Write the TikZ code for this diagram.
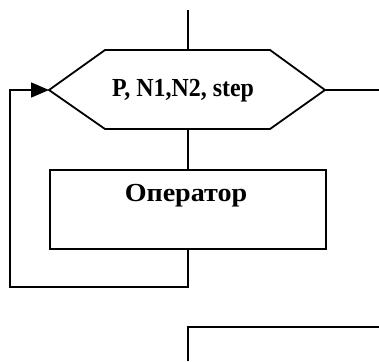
\documentclass[tikz,border=0pt]{standalone}
\usepackage{fontspec}
\setmainfont{Liberation Serif}
\usetikzlibrary{arrows.meta}
\begin{document}
\begin{tikzpicture}[x=1pt,y=-1pt,line width=1.8pt,
  lbl/.style={font=\fontsize{26}{30}\selectfont\bfseries, inner sep=0pt},
  opbox/.style={draw, minimum width=276pt, minimum height=79pt, anchor=north west, inner sep=0pt},
  flow/.style={draw},
  loopin/.style={-{Triangle[length=18pt,width=15pt]}}]
\useasboundingbox (0,0) rectangle (379,361);
% hexagon
\coordinate (hl) at (49,90);
\coordinate (htl) at (105,50);
\coordinate (htr) at (270,50);
\coordinate (hr) at (325,90);
\coordinate (hbr) at (270,129);
\coordinate (hbl) at (105,129);
\coordinate (htop) at (188,50);
\coordinate (hbot) at (188,129);
\draw (hl) -- (htl) -- (htr) -- (hr) -- (hbr) -- (hbl) -- cycle;
\node[lbl, xscale=0.92] (cond) at (183,91) {P, N1,N2, step};
% operator box
\node[opbox] (op) at (49,169) {};
\node[lbl, xscale=1.08] (optext) at (186,196) {Оператор};
% connectors
\coordinate (in) at (188,10);
\coordinate (exitr) at (379,90);
\coordinate (lb) at (10,287);
\coordinate (lt) at (10,90);
\coordinate (b1) at (188,361);
\coordinate (b2) at (379,327);
\draw[flow] (in) -- (htop);
\draw[flow] (hr) -- (exitr);
\draw[flow] (hbot) -- (op.north);
\draw[flow,loopin] (op.south) |- (lb) -- (lt) -- (hl);
\draw[flow] (b1) |- (b2);
\end{tikzpicture}
\end{document}
